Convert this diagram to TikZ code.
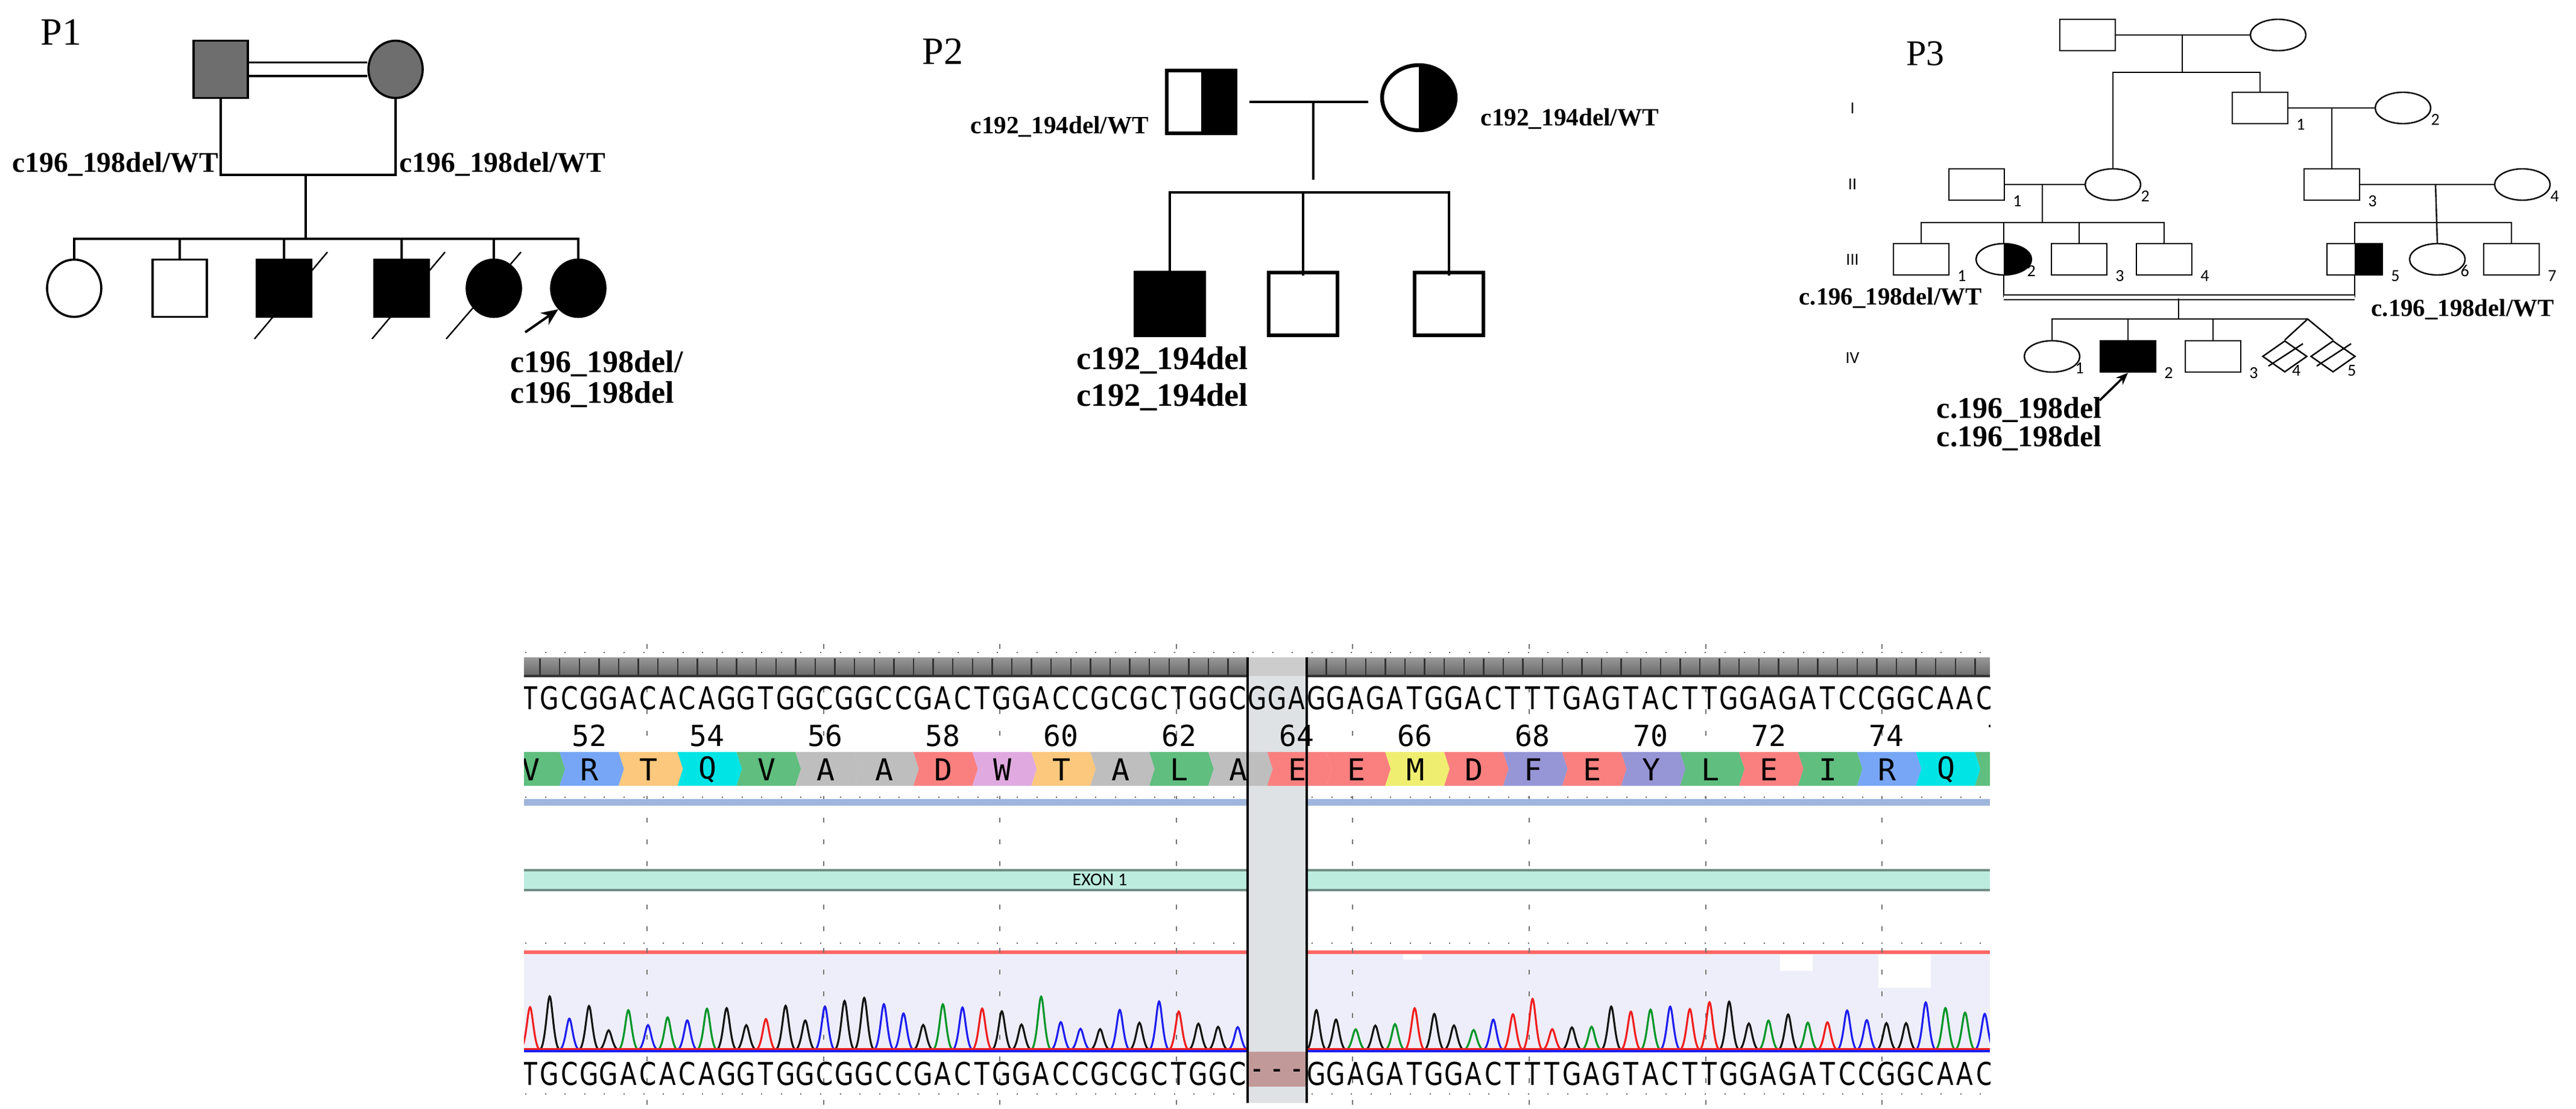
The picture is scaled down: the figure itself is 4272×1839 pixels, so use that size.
\documentclass[tikz,border=0pt]{standalone}
\usepackage{fontspec}
\setmainfont{Liberation Serif}
\setsansfont{Carlito}
\newfontfamily\seqfont{DejaVu Sans}[FakeStretch=0.78]
\newfontfamily\monofont{DejaVu Sans Mono}
\usetikzlibrary{shapes.geometric,arrows.meta}

\definecolor{pgray}{RGB}{110,110,110}
\definecolor{aV}{RGB}{96,190,126}
\definecolor{aR}{RGB}{120,166,246}
\definecolor{aT}{RGB}{252,200,125}
\definecolor{aQ}{RGB}{0,228,230}
\definecolor{aA}{RGB}{190,190,190}
\definecolor{aD}{RGB}{250,128,128}
\definecolor{aW}{RGB}{224,170,224}
\definecolor{aM}{RGB}{240,238,112}
\definecolor{aF}{RGB}{150,150,214}
\definecolor{pkA}{RGB}{0,150,40}
\definecolor{pkC}{RGB}{30,30,240}
\definecolor{pkG}{RGB}{20,20,20}
\definecolor{pkT}{RGB}{240,30,30}
\definecolor{lav}{RGB}{238,238,250}
\definecolor{exon}{RGB}{188,236,222}
\definecolor{colgray}{RGB}{222,226,228}

\tikzset{
  sq/.style={draw, rectangle, inner sep=0pt},
  ci/.style={draw, ellipse, inner sep=0pt},
  dm/.style={draw, diamond, inner sep=0pt, minimum width=18.5pt, minimum height=13pt},
  aff/.style={fill=black},
  carrier/.style={path picture={\fill (path picture bounding box.north) rectangle (path picture bounding box.south east);}},
  geno/.style={font=\bfseries\fontsize{#1}{#1}\selectfont, anchor=west, inner sep=0pt},
  plabel/.style={font=\fontsize{16}{16}\selectfont, anchor=west, inner sep=0pt},
  pone/.style={minimum width=22.5pt, minimum height=23.75pt, line width=0.9pt},
  ptwo/.style={minimum width=28.5pt, minimum height=26pt, line width=1.6pt},
  pthree/.style={minimum width=23pt, minimum height=13pt, line width=0.6pt},
  num/.style={font=\sffamily\fontsize{7}{7}\selectfont, inner sep=0pt},
  seqf/.style={font=\seqfont\fontsize{13}{13}\selectfont, inner sep=0pt},
  aaf/.style={font=\monofont\fontsize{12.5}{12.5}\selectfont, inner sep=0pt},
}

\begin{document}
\begin{tikzpicture}[x=0.25pt,y=0.25pt,yscale=-1]
\useasboundingbox (0,0) rectangle (4272,1839);

% P1
\node[plabel] (p1lab) at (67,53) {P1};
\node[sq,pone,fill=pgray] (p1f) at (366,115) {};
\node[ci,pone,fill=pgray] (p1m) at (656,115) {};
\draw[double distance=4.75pt,line width=0.9pt] (p1f.east) -- (p1m.west);
\coordinate (p1j) at (507,290);
\coordinate (p1s) at (507,396);
\draw[line width=0.9pt] (p1f.south) |- (p1j) -| (p1m.south);
\draw[line width=0.9pt] (p1j) -- (p1s);
\draw[line width=0.6pt] (422,562) -- (543,418);
\draw[line width=0.6pt] (617,562) -- (738,418);
\draw[line width=0.6pt] (740,562) -- (864,418);
\node[ci,pone] (p1c1) at (123,478) {};
\node[sq,pone] (p1c2) at (298,478) {};
\node[sq,pone,aff] (p1c3) at (471,478) {};
\node[sq,pone,aff] (p1c4) at (666,478) {};
\node[ci,pone,aff] (p1c5) at (819,478) {};
\node[ci,pone,aff] (p1c6) at (959,478) {};
\draw[line width=1.1pt] (p1c1.north) |- (p1s) -| (p1c6.north);
\foreach \c in {2,3,4,5}
  \draw[line width=1pt] (p1c\c.north) -- (p1c\c.north |- p1s);
\coordinate (p1a) at (871,551);
\draw[line width=1pt,-{Stealth[length=7pt,width=6pt]}] (p1a) -- (p1c6.south west);
\node[geno=11.9] (p1g1) at (20,272) {c196\_198del/WT};
\node[geno=11.9] (p1g2) at (662,272) {c196\_198del/WT};
\node[geno=13] (p1g3) at (846,603) {c196\_198del/};
\node[geno=13] (p1g4) at (846,654) {c196\_198del};

% P2
\node[plabel] (p2lab) at (1529,85) {P2};
\node[sq,ptwo,carrier] (p2f) at (1992,169) {};
\node[ci,ptwo,carrier,minimum width=30.5pt,minimum height=27pt] (p2m) at (2353,162) {};
\draw[line width=1.1pt] ([xshift=5pt]p2f.east) -- ([xshift=-5pt]p2f.east -| p2m.west);
\coordinate (p2j) at (2178,169);
\coordinate (p2d) at (2178,298);
\draw[line width=0.9pt] (p2j) -- (p2d);
\node[sq,ptwo,aff] (p2c1) at (1940,504) {};
\node[sq,ptwo] (p2c2) at (2161,504) {};
\node[sq,ptwo] (p2c3) at (2403,504) {};
\coordinate (p2s) at (2178,319);
\draw[line width=1.1pt] ([yshift=2pt]p2c1.north) |- (p2s) -| ([yshift=2pt]p2c3.north);
\draw[line width=0.9pt] ([yshift=2pt]p2c2.north) -- (p2c2.north |- p2s);
\node[geno=10.3] (p2g1) at (1609,210) {c192\_194del/WT};
\node[geno=10.3] (p2g2) at (2455,197) {c192\_194del/WT};
\node[geno=13.6] (p2g3) at (1785,597) {c192\_194del};
\node[geno=13.6] (p2g4) at (1785,658) {c192\_194del};

% P3
\begin{scope}[line width=0.6pt]
\node[plabel,font=\fontsize{15}{15}\selectfont] (p3lab) at (3160,89) {P3};
\foreach \r/\y/\t in {g1/180/I, g2/306/II, g3/431/III, g4/594/IV}
  \node[num] (\r) at (3072,\y) {\t};
\node[sq,pthree] (t1) at (3462,58) {};
\node[ci,pthree] (t2) at (3778,58) {};
\node[sq,pthree,label={[num,anchor=west,xshift=3pt]south east:1}] (i1) at (3748,179) {};
\node[ci,pthree,label={[num,anchor=west,xshift=3pt]south east:2}] (i2) at (3985,179) {};
\node[sq,pthree,label={[num,anchor=west,xshift=3pt]south east:1}] (ii1) at (3278,306) {};
\node[ci,pthree,label={[num,anchor=west,xshift=3pt]south east:2}] (ii2) at (3504,306) {};
\node[sq,pthree,label={[num,anchor=west,xshift=3pt]south east:3}] (ii3) at (3867,306) {};
\node[ci,pthree,label={[num,anchor=west,xshift=3pt]south east:4}] (ii4) at (4183,306) {};
\node[sq,pthree,label={[num,anchor=west,xshift=3pt]south east:1}] (iii1) at (3186,430) {};
\node[ci,pthree,carrier,label={[num,anchor=west,xshift=1pt]south east:2}] (iii2) at (3323,430) {};
\node[sq,pthree,label={[num,anchor=west,xshift=3pt]south east:3}] (iii3) at (3448,430) {};
\node[sq,pthree,label={[num,anchor=west,xshift=3pt]south east:4}] (iii4) at (3589,430) {};
\node[sq,pthree,carrier,label={[num,anchor=west,xshift=3pt]south east:5}] (iii5) at (3905,430) {};
\node[ci,pthree,label={[num,anchor=west,xshift=1pt]south east:6}] (iii6) at (4042,430) {};
\node[sq,pthree,label={[num,anchor=west,xshift=3pt]south east:7}] (iii7) at (4165,430) {};
\node[ci,pthree,label={[num,anchor=west,xshift=1pt]south east:1}] (iv1) at (3403,591) {};
\node[sq,pthree,aff,label={[num,anchor=west,xshift=3pt]south east:2}] (iv2) at (3529,591) {};
\node[sq,pthree,label={[num,anchor=west,xshift=3pt]south east:3}] (iv3) at (3670,591) {};
\node[dm,label={[num,anchor=north]south east:4}] (iv4) at (3789,591) {};
\node[dm,label={[num,anchor=north,xshift=3pt]south east:5}] (iv5) at (3869,591) {};
\draw (3762,607) -- (3819,570);
\draw (3842,607) -- (3899,570);
% lines of descent
\draw (t1.east) -- (t2.west);
\coordinate (tj) at (3619,58);
\coordinate (ts) at (3619,120);
\draw (tj) -- (ts);
\draw (ii2.north) |- (ts) -| (i1.north);
\draw (i1.east) -- (i2.west);
\draw (ii3.north) -- (ii3.north |- i1.east);
\draw (ii1.east) -- (ii2.west);
\coordinate (lj) at (3387,306);
\coordinate (ls) at (3387,369);
\draw (lj) -- (ls);
\draw (iii1.north) |- (ls) -| (iii4.north);
\draw (iii2.north) -- (iii2.north |- ls);
\draw (iii3.north) -- (iii3.north |- ls);
\draw (ii3.east) -- (ii4.west);
\coordinate (rj) at (4039,306);
\coordinate (rs) at (4039,369);
\draw (rj) -- (iii6.north);
\draw (iii5.north) |- (rs) -| (iii7.north);
\coordinate (cl) at (3323,493);
\coordinate (cr) at (3905,493);
\draw (iii2.south) -- (cl);
\draw (iii5.south) -- (cr);
\draw[double distance=1.3pt] (cl) -- (cr);
\coordinate (cj) at (3613,495);
\coordinate (cs) at (3613,529);
\coordinate (tw) at (3827,529);
\draw (cj) -- (cs);
\draw (iv1.north) |- (tw);
\draw (iv2.north) -- (iv2.north |- cs);
\draw (iv3.north) -- (iv3.north |- cs);
\draw (iv4.north) -- (tw) -- (iv5.north);
\coordinate (p3a) at (3482,664);
\draw[line width=0.9pt,-{Stealth[length=5pt,width=4pt]}] (p3a) -- (iv2.south);
\end{scope}
\node[geno=10.2] (p3g1) at (2983,494) {c.196\_198del/WT};
\node[geno=10.2] (p3g2) at (3932,513) {c.196\_198del/WT};
\node[geno=12.5] (p3g3) at (3211,680) {c.196\_198del};
\node[geno=12.5] (p3g4) at (3211,727) {c.196\_198del};

% chromatogram panel
\begin{scope}
\clip (869,1060) rectangle (3300,1835);
\fill[lav] (869,1582) rectangle (3300,1741);
\fill[white] (2327,1582) rectangle (2358,1591);
\fill[white] (2952,1582) rectangle (3006,1610);
\fill[white] (3115,1582) rectangle (3202,1638);
\fill[red!60] (869,1576) rectangle (3300,1582);
\foreach \y in {1082,1322,1564,1814}
  \draw[black!60,line width=0.5pt,dash pattern=on 0.5pt off 7.65pt] (871,\y) -- (3300,\y);
\foreach \j in {0,...,7}
  \draw[black!55,line width=0.5pt,dash pattern=on 2pt off 7pt] ({1073+292.6*\j},1068) -- ++(0,765);
\shade[top color=black!40,bottom color=black!60] (869,1090) rectangle (3300,1121);
\foreach \i in {0,...,75}
  \draw[black!80,line width=0.6pt] ({863+32.6*\i},1092) -- ++(0,28);
\draw[black!80,line width=0.8pt] (869,1121) -- (3300,1121);
\fill[aR!80!black!60] (869,1325) rectangle (3300,1336);
\fill[exon] (869,1442) rectangle (3300,1477);
\draw[exon!60!black,line width=0.8pt] (869,1443) -- (3300,1443) (869,1476) -- (3300,1476);
\node[font=\sffamily\fontsize{7.5}{7.5}\selectfont,inner sep=0pt] (exlab) at (1824,1459) {EXON 1};
% traces
\pgfmathsetseed{11}
\foreach \b [count=\i from 0] in {T,G,C,G,G,A,C,A,C,A,G,G,T,G,G,C,G,G,C,C,G,A,C,T,G,G,A,C,C,G,C,G,C,T,G,G,C,G,G,A,G,G,A,G,A,T,G,G,A,C,T,T,T,G,A,G,T,A,C,T,T,G,G,A,G,A,T,C,C,G,G,C,A,A,C} {
  \pgfmathtruncatemacro\gap{and(\i>36,\i<40)}
  \ifnum\gap=0
    \pgfmathsetmacro\x{879+32.6*\i}
    \pgfmathsetmacro\h{1741-(30+62*rnd)}
    \draw[pk\b,line width=0.8pt] ({\x-17},1741) .. controls ({\x-7},1741) and ({\x-4},\h) .. (\x,\h) .. controls ({\x+4},\h) and ({\x+7},1741) .. ({\x+17},1741);
  \fi
}
\draw[pkT,line width=1.2pt] (869,1740) -- (3300,1740);
\draw[pkC,line width=1pt] (869,1743) -- (3300,1743);
% deletion column
\fill[colgray] (2069,1090) rectangle (2167,1829);
\fill[black!20] (2069,1090) rectangle (2167,1121);
\fill[red!40!black!40] (2069,1744) rectangle (2167,1802);
% amino acids
\foreach \a/\c [count=\k from -1] in {V/aV,R/aR,T/aT,Q/aQ,V/aV,A/aA,A/aA,D/aD,W/aW,T/aT,A/aA,L/aV,A/aA,E/aD,E/aD,M/aM,D/aD,F/aF,E/aD,Y/aF,L/aV,E/aD,I/aV,R/aR,Q/aQ,{}/aV} {
  \pgfmathsetmacro\xa{928+97.8*\k}
  \fill[\c] (\xa,1247) -- ({\xa+97.8},1247) -- ({\xa+107},1275) -- ({\xa+97.8},1303) -- (\xa,1303) -- ({\xa+9},1275) -- cycle;
  \node[aaf] (aa\k) at ({\xa+50},1276) {\a};
}
\foreach \n [count=\j from 0] in {52,54,...,76}
  \node[aaf,font=\monofont\fontsize{12}{12}\selectfont] (n\n) at ({977+195.6*\j},1220) {\n};
% base calls
\foreach \b [count=\i from 0] in {T,G,C,G,G,A,C,A,C,A,G,G,T,G,G,C,G,G,C,C,G,A,C,T,G,G,A,C,C,G,C,G,C,T,G,G,C,G,G,A,G,G,A,G,A,T,G,G,A,C,T,T,T,G,A,G,T,A,C,T,T,G,G,A,G,A,T,C,C,G,G,C,A,A,C}
  \node[seqf] (up\i) at ({879+32.6*\i},1158) {\b};
\foreach \b [count=\i from 0] in {T,G,C,G,G,A,C,A,C,A,G,G,T,G,G,C,G,G,C,C,G,A,C,T,G,G,A,C,C,G,C,G,C,T,G,G,C,-,-,-,G,G,A,G,A,T,G,G,A,C,T,T,T,G,A,G,T,A,C,T,T,G,G,A,G,A,T,C,C,G,G,C,A,A,C}
  \node[seqf] (lo\i) at ({879+32.6*\i},1781) {\b};
\draw[line width=1pt] (2069,1090) -- (2069,1829) (2167,1090) -- (2167,1829);
\end{scope}
\end{tikzpicture}
\end{document}
